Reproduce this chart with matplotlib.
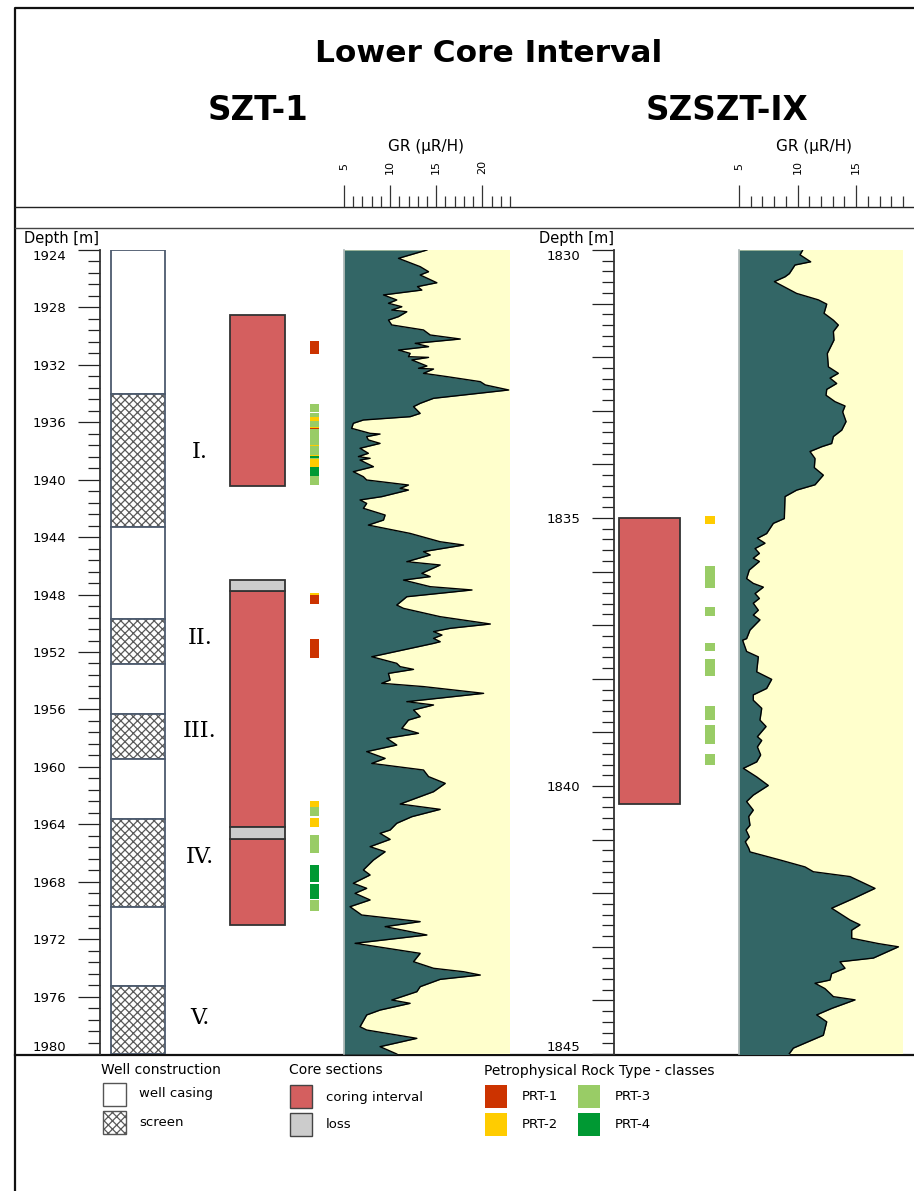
import numpy as np
import matplotlib
matplotlib.use("Agg")
import matplotlib.pyplot as plt
from matplotlib.patches import Rectangle
from matplotlib.ticker import MultipleLocator

W, H = 914, 1191

# ---------------- SZT-1 ----------------
szt1_range = (1924, 1980)
szt1_well_top = [1924.0, 1934.03, 1943.31, 1949.70, 1952.84, 1956.32, 1959.45, 1963.65, 1969.76, 1975.24]
szt1_well_base = [1934.03, 1943.31, 1949.70, 1952.84, 1956.32, 1959.45, 1963.65, 1969.76, 1975.24, 1980.0]
szt1_well_kind = ["casing", "screen", "casing", "screen", "casing",
                  "screen", "casing", "screen", "casing", "screen"]
szt1_zone_label = ["I.", "II.", "III.", "IV.", "V."]
szt1_zone_depth = [1938.1, 1951.0, 1957.5, 1966.3, 1977.5]
szt1_core_top = [1928.53, 1947.75, 1965.03]
szt1_core_base = [1940.44, 1964.19, 1971.00]
szt1_loss_top = [1946.99, 1964.19]
szt1_loss_base = [1947.75, 1965.03]
# (top, base, PRT class)
szt1_prt = [
    (1930.34, 1931.24, 1), (1934.74, 1935.30, 3), (1935.36, 1935.60, 3),
    (1935.60, 1935.88, 2), (1935.88, 1936.30, 3), (1936.30, 1936.40, 2),
    (1936.40, 1936.50, 1), (1936.50, 1937.57, 3), (1937.57, 1937.67, 2),
    (1937.67, 1938.28, 3), (1938.28, 1938.37, 2), (1938.37, 1938.46, 4),
    (1938.46, 1938.56, 3), (1938.56, 1939.08, 2), (1939.08, 1939.71, 4),
    (1939.71, 1940.40, 3), (1947.90, 1948.03, 2), (1948.03, 1948.66, 1),
    (1951.09, 1952.42, 1), (1962.36, 1962.78, 2), (1962.82, 1963.40, 3),
    (1963.54, 1964.17, 2), (1964.75, 1965.98, 3), (1966.86, 1968.04, 4),
    (1968.14, 1969.23, 4), (1969.27, 1970.04, 3),
]
szt1_gr_range = (5, 23)
# (depth, GR)
szt1_gr = [
    (1924.00, 13.99), (1924.58, 10.91), (1925.16, 13.26), (1925.51, 14.17), (1925.74, 13.26),
    (1926.28, 15.07), (1926.55, 12.97), (1926.79, 13.44), (1927.13, 9.28), (1927.48, 10.72),
    (1927.71, 9.82), (1927.95, 11.27), (1928.18, 10.18), (1928.30, 11.81), (1928.64, 10.91),
    (1928.88, 9.82), (1929.22, 10.18), (1929.57, 13.62), (1929.92, 14.35), (1930.20, 17.61),
    (1930.50, 12.72), (1930.73, 14.17), (1930.97, 10.91), (1931.20, 12.17), (1931.43, 11.99),
    (1931.48, 14.17), (1931.66, 12.36), (1932.08, 13.99), (1932.24, 13.08), (1932.29, 14.71),
    (1932.59, 13.62), (1932.82, 16.16), (1933.17, 19.78), (1933.40, 20.33), (1933.75, 22.86),
    (1934.10, 17.97), (1934.33, 14.71), (1934.68, 13.26), (1934.91, 12.54), (1935.38, 13.26),
    (1935.61, 12.17), (1935.84, 7.10), (1936.07, 6.01), (1936.42, 5.83), (1936.77, 7.83),
    (1936.82, 8.91), (1937.00, 7.46), (1937.23, 7.64), (1937.47, 8.91), (1937.81, 6.74),
    (1938.16, 7.64), (1938.39, 6.56), (1938.51, 7.83), (1938.63, 6.74), (1939.09, 8.19),
    (1939.44, 6.01), (1939.79, 7.10), (1940.02, 7.46), (1940.37, 11.99), (1940.60, 11.09),
    (1940.72, 11.99), (1941.18, 9.09), (1941.41, 6.74), (1941.65, 7.46), (1941.99, 7.10),
    (1942.46, 9.46), (1942.81, 9.28), (1943.16, 7.64), (1943.74, 12.17), (1944.32, 15.43),
    (1944.55, 17.97), (1945.01, 13.62), (1945.24, 14.35), (1945.71, 11.81), (1945.94, 15.43),
    (1946.52, 13.44), (1946.75, 14.35), (1946.99, 11.45), (1947.45, 14.35), (1947.68, 18.88),
    (1948.15, 11.81), (1948.73, 10.72), (1948.96, 11.45), (1949.54, 15.43), (1950.05, 20.87),
    (1950.35, 16.52), (1950.58, 14.71), (1950.82, 15.62), (1951.05, 14.71), (1951.28, 15.43),
    (1951.40, 14.71), (1952.33, 8.01), (1952.79, 10.72), (1953.02, 11.09), (1953.21, 12.54),
    (1953.49, 9.82), (1953.95, 10.00), (1954.18, 9.09), (1954.41, 13.62), (1954.88, 20.14),
    (1955.46, 11.81), (1955.69, 14.71), (1956.04, 12.54), (1956.50, 13.26), (1956.74, 11.99),
    (1957.32, 11.27), (1957.66, 13.08), (1958.01, 9.64), (1958.48, 10.72), (1958.94, 7.46),
    (1959.41, 9.46), (1959.76, 8.01), (1960.22, 13.62), (1960.68, 14.17), (1961.15, 15.98),
    (1961.73, 14.71), (1962.59, 11.09), (1962.96, 15.43), (1963.47, 12.36), (1963.93, 10.72),
    (1964.40, 10.00), (1964.63, 8.91), (1965.05, 10.00), (1965.56, 7.83), (1965.91, 9.46),
    (1966.49, 8.19), (1967.18, 7.10), (1967.53, 7.83), (1968.11, 6.01), (1968.46, 7.46),
    (1968.81, 6.20), (1969.27, 7.83), (1969.74, 5.65), (1970.32, 6.92), (1970.78, 13.26),
    (1971.13, 9.46), (1971.71, 13.99), (1972.29, 6.20), (1972.99, 13.26), (1973.57, 12.54),
    (1974.03, 14.71), (1974.27, 17.97), (1974.50, 19.78), (1974.80, 15.43), (1975.31, 13.26),
    (1975.66, 12.90), (1976.24, 10.18), (1976.47, 12.17), (1976.94, 8.91), (1977.28, 7.46),
    (1978.10, 6.74), (1978.33, 7.46), (1978.91, 12.90), (1979.49, 8.91), (1980.00, 10.72),
]

# ---------------- SZSZT-IX ----------------
szszt_range = (1830, 1845)
szszt_core_top = [1835.00]
szszt_core_base = [1840.33]
szszt_prt = [
    (1834.96, 1835.12, 2), (1835.89, 1836.30, 3), (1836.66, 1836.82, 3),
    (1837.34, 1837.48, 3), (1837.63, 1837.94, 3), (1838.50, 1838.76, 3),
    (1838.86, 1839.22, 3), (1839.40, 1839.61, 3),
]
szszt_gr_range = (5, 19)
szszt_gr = [
    (1830.00, 10.44), (1830.09, 10.21), (1830.22, 11.12), (1830.28, 9.78), (1830.44, 9.30),
    (1830.50, 8.93), (1830.59, 8.02), (1830.81, 9.92), (1830.93, 11.77), (1831.01, 12.49),
    (1831.18, 12.26), (1831.31, 13.06), (1831.40, 13.48), (1831.52, 13.06), (1831.68, 13.11),
    (1831.83, 12.77), (1831.93, 12.54), (1832.18, 12.63), (1832.30, 13.48), (1832.39, 12.77),
    (1832.49, 13.34), (1832.60, 12.49), (1832.71, 12.43), (1832.83, 13.20), (1832.91, 14.05),
    (1833.02, 13.85), (1833.20, 14.14), (1833.36, 13.77), (1833.48, 13.06), (1833.61, 12.91),
    (1833.67, 12.06), (1833.76, 11.06), (1833.89, 11.49), (1834.06, 11.43), (1834.20, 12.20),
    (1834.38, 11.49), (1834.48, 9.92), (1834.60, 8.93), (1835.01, 8.87), (1835.10, 7.93),
    (1835.29, 7.36), (1835.38, 6.57), (1835.47, 7.22), (1835.57, 6.37), (1835.66, 6.74),
    (1835.75, 6.22), (1835.81, 6.74), (1835.97, 5.88), (1836.13, 5.65), (1836.22, 6.22),
    (1836.29, 7.08), (1836.41, 6.37), (1836.50, 6.74), (1836.59, 6.22), (1836.72, 6.65),
    (1836.81, 6.22), (1836.90, 6.79), (1837.09, 5.94), (1837.25, 5.65), (1837.28, 5.31),
    (1837.49, 5.65), (1837.59, 6.65), (1837.87, 6.51), (1838.01, 7.79), (1838.18, 7.36),
    (1838.30, 6.22), (1838.40, 6.22), (1838.55, 6.94), (1838.77, 6.79), (1838.89, 7.31),
    (1839.08, 6.57), (1839.15, 6.94), (1839.27, 6.57), (1839.42, 6.85), (1839.55, 6.51),
    (1839.67, 5.37), (1839.83, 6.51), (1839.99, 7.50), (1840.17, 6.22), (1840.29, 5.65),
    (1840.45, 6.22), (1840.57, 5.83), (1840.73, 5.94), (1840.82, 5.60), (1840.95, 5.88),
    (1841.04, 5.54), (1841.16, 5.83), (1841.23, 5.94), (1841.38, 8.50), (1841.51, 10.64),
    (1841.60, 11.35), (1841.69, 14.48), (1841.91, 16.61), (1842.10, 14.76), (1842.28, 12.91),
    (1842.50, 14.48), (1842.59, 15.33), (1842.69, 14.62), (1842.84, 14.62), (1842.94, 16.90),
    (1843.00, 18.61), (1843.21, 16.47), (1843.28, 13.62), (1843.40, 14.05), (1843.50, 12.91),
    (1843.62, 12.77), (1843.68, 11.49), (1843.78, 12.34), (1843.93, 13.06), (1843.99, 14.91),
    (1844.15, 12.91), (1844.27, 11.63), (1844.40, 12.49), (1844.65, 12.20), (1844.89, 9.64),
    (1845.02, 9.21),
]

prt_colors = {1: "#cc3300", 2: "#ffcc00", 3: "#99cc66", 4: "#009933"}
CORE_RED = "#d45f5f"
LOSS_GREY = "#cccccc"
GR_FILL = "#336666"
GR_BACK = "#ffffcc"
WELL_EDGE = "#4d5b6e"
SCREEN_HATCH = "#5a5a5a"

plt.rcParams["font.family"] = "DejaVu Sans"
plt.rcParams["hatch.linewidth"] = 0.9


def px_axes(fig, x0, y0, x1, y1):
    return fig.add_axes([x0 / W, 1 - y1 / H, (x1 - x0) / W, (y1 - y0) / H])


def interval_boxes(ax, x0, x1, tops, bases, **kw):
    for t, b in zip(tops, bases):
        ax.add_patch(Rectangle((x0, t), x1 - x0, b - t, **kw))


def screen_box(ax, x, y, w, h, edge, lw):
    # hatch takes the edge colour, so draw the pattern and the outline separately
    ax.add_patch(Rectangle((x, y), w, h, facecolor="white", edgecolor=SCREEN_HATCH,
                           lw=0, hatch="xxxx"))
    ax.add_patch(Rectangle((x, y), w, h, facecolor="none", edgecolor=edge, lw=lw))


def depth_axis(ax, top, base, major, minor, label_step):
    ticks = np.arange(top, base + 0.001, major)
    ax.set_ylim(base, top)
    ax.set_yticks(ticks)
    ax.yaxis.set_minor_locator(MultipleLocator(minor))
    ax.tick_params(axis="y", which="major", length=16, width=0.9, color="#222222",
                   pad=8, labelsize=9.5)
    ax.tick_params(axis="y", which="minor", length=8.5, width=0.9, color="#222222")
    labels = ax.set_yticklabels([f"{t:.0f}" if round(t) % label_step == 0 else "" for t in ticks])
    labels[0].set_va("top")
    labels[-1].set_va("bottom")
    ax.set_xticks([])
    ax.patch.set_visible(False)
    for s in ["top", "right", "bottom"]:
        ax.spines[s].set_visible(False)
    ax.spines["left"].set_linewidth(1.3)
    ax.spines["left"].set_color("#333333")


def prt_column(ax, x0, x1, samples):
    for top, base, cls in samples:
        ax.add_patch(Rectangle((x0, top), x1 - x0, base - top,
                               facecolor=prt_colors[cls], edgecolor="none"))


def gr_track(fig, x0, x1, y0, y1, log, grange, drange):
    ax = px_axes(fig, x0, y0, x1, y1)
    depth = [d for d, g in log]
    gr = [g for d, g in log]
    ax.set_facecolor(GR_BACK)
    ax.fill_betweenx(depth, grange[0], gr, color=GR_FILL, lw=0)
    ax.plot(gr, depth, color="black", lw=1.0)
    ax.set_xlim(*grange)
    ax.set_ylim(drange[1], drange[0])
    ax.set_xticks([])
    ax.set_yticks([])
    for s in ["top", "right", "bottom"]:
        ax.spines[s].set_visible(False)
    ax.spines["left"].set_color("#a8b4b4")
    ax.spines["left"].set_linewidth(1.2)
    return ax


def gr_scale(fig, x0, x1, gmin, gmax, majors):
    ax = px_axes(fig, x0, 150, x1, 207)
    ax.set_xlim(gmin, gmax)
    ax.set_ylim(0, 57)
    ax.patch.set_visible(False)
    for s in ax.spines.values():
        s.set_visible(False)
    ax.set_xticks(majors)
    ax.xaxis.set_minor_locator(MultipleLocator(1))
    ax.tick_params(axis="x", which="major", direction="in", length=16, width=0.9,
                   color="#333333", labelbottom=False)
    ax.tick_params(axis="x", which="minor", direction="in", length=8, width=0.9,
                   color="#333333")
    ax.set_yticks([])
    for v in majors:
        ax.text(v, 40, str(v), rotation=90, ha="center", va="center", fontsize=8)
    return ax


fig = plt.figure(figsize=(W / 100, H / 100), dpi=100)
fig.patch.set_facecolor("white")

# page frame, titles and legend in pixel coordinates
bg = fig.add_axes([0, 0, 1, 1])
bg.set_xlim(0, W)
bg.set_ylim(H, 0)
bg.axis("off")
bg.plot([15, 15, W], [H, 8, 8], color="#111111", lw=1.6, solid_capstyle="butt")
bg.plot([15, W], [207, 207], color="#222222", lw=1.0)
bg.plot([15, W], [228, 228], color="#444444", lw=1.0)
bg.plot([15, W], [1055, 1055], color="#111111", lw=1.6)

bg.text(489, 54, "Lower Core Interval", ha="center", va="center", fontsize=22.5, fontweight="bold")
bg.text(258, 111, "SZT-1", ha="center", va="center", fontsize=23.5, fontweight="bold")
bg.text(727, 111, "SZSZT-IX", ha="center", va="center", fontsize=23.5, fontweight="bold")
bg.text(426, 146, "GR (μR/H)", ha="center", va="center", fontsize=11)
bg.text(814, 146, "GR (μR/H)", ha="center", va="center", fontsize=11)
bg.text(24, 238, "Depth [m]", ha="left", va="center", fontsize=10.5)
bg.text(539, 238, "Depth [m]", ha="left", va="center", fontsize=10.5)

# ---- SZT-1 columns ----
ax1 = px_axes(fig, 100, 250, 335, 1054)
ax1.set_xlim(100, 335)
depth_axis(ax1, szt1_range[0], szt1_range[1], 4, 0.8, 4)
for t, b, kind in zip(szt1_well_top, szt1_well_base, szt1_well_kind):
    if kind == "screen":
        screen_box(ax1, 111, t, 54, b - t, WELL_EDGE, 1.3)
    else:
        ax1.add_patch(Rectangle((111, t), 54, b - t, facecolor="white",
                                edgecolor=WELL_EDGE, lw=1.3))
for lab, d in zip(szt1_zone_label, szt1_zone_depth):
    ax1.text(200, d, lab, ha="center", va="center", fontsize=16, family="DejaVu Serif")
interval_boxes(ax1, 230, 285, szt1_core_top, szt1_core_base,
               facecolor=CORE_RED, edgecolor="#333333", lw=1.3)
interval_boxes(ax1, 230, 285, szt1_loss_top, szt1_loss_base,
               facecolor=LOSS_GREY, edgecolor="#333333", lw=1.3)
prt_column(ax1, 310, 319, szt1_prt)

gr_track(fig, 344, 510, 250, 1054, szt1_gr, szt1_gr_range, szt1_range)
gr_scale(fig, 344, 510, 5, 23, [5, 10, 15, 20])

# ---- SZSZT-IX columns ----
ax2 = px_axes(fig, 613.5, 250, 735, 1054)
ax2.set_xlim(613.5, 735)
depth_axis(ax2, szszt_range[0], szszt_range[1], 1, 0.2, 5)
interval_boxes(ax2, 619, 680, szszt_core_top, szszt_core_base,
               facecolor=CORE_RED, edgecolor="#333333", lw=1.3)
prt_column(ax2, 705, 715, szszt_prt)

gr_track(fig, 739, 903, 250, 1054, szszt_gr, szszt_gr_range, szszt_range)
gr_scale(fig, 739, 914, 5, 5 + (914 - 739) / 11.71, [5, 10, 15])

# ---- legend ----
bg.text(101, 1070, "Well construction", ha="left", va="center", fontsize=10)
bg.add_patch(Rectangle((103, 1083), 23, 23, facecolor="white", edgecolor="#555555", lw=1.0))
screen_box(bg, 103, 1111, 23, 23, "#555555", 1.0)
bg.text(139, 1094, "well casing", ha="left", va="center", fontsize=9.5)
bg.text(139, 1122, "screen", ha="left", va="center", fontsize=9.5)

bg.text(289, 1070, "Core sections", ha="left", va="center", fontsize=10)
bg.add_patch(Rectangle((290, 1085), 22, 23, facecolor=CORE_RED, edgecolor="#444444", lw=1.0))
bg.add_patch(Rectangle((290, 1113), 22, 23, facecolor=LOSS_GREY, edgecolor="#444444", lw=1.0))
bg.text(326, 1097, "coring interval", ha="left", va="center", fontsize=9.5)
bg.text(326, 1125, "loss", ha="left", va="center", fontsize=9.5)

bg.text(484, 1071, "Petrophysical Rock Type - classes", ha="left", va="center", fontsize=10)
legend_pos = {1: (485, 1085), 2: (485, 1113), 3: (578, 1085), 4: (578, 1113)}
for cls, (x, y) in legend_pos.items():
    bg.add_patch(Rectangle((x, y), 22, 23, facecolor=prt_colors[cls], edgecolor="none"))
    bg.text(x + 37, y + 11, f"PRT-{cls}", ha="left", va="center", fontsize=9.5)

fig.savefig("out.png", dpi=100)
